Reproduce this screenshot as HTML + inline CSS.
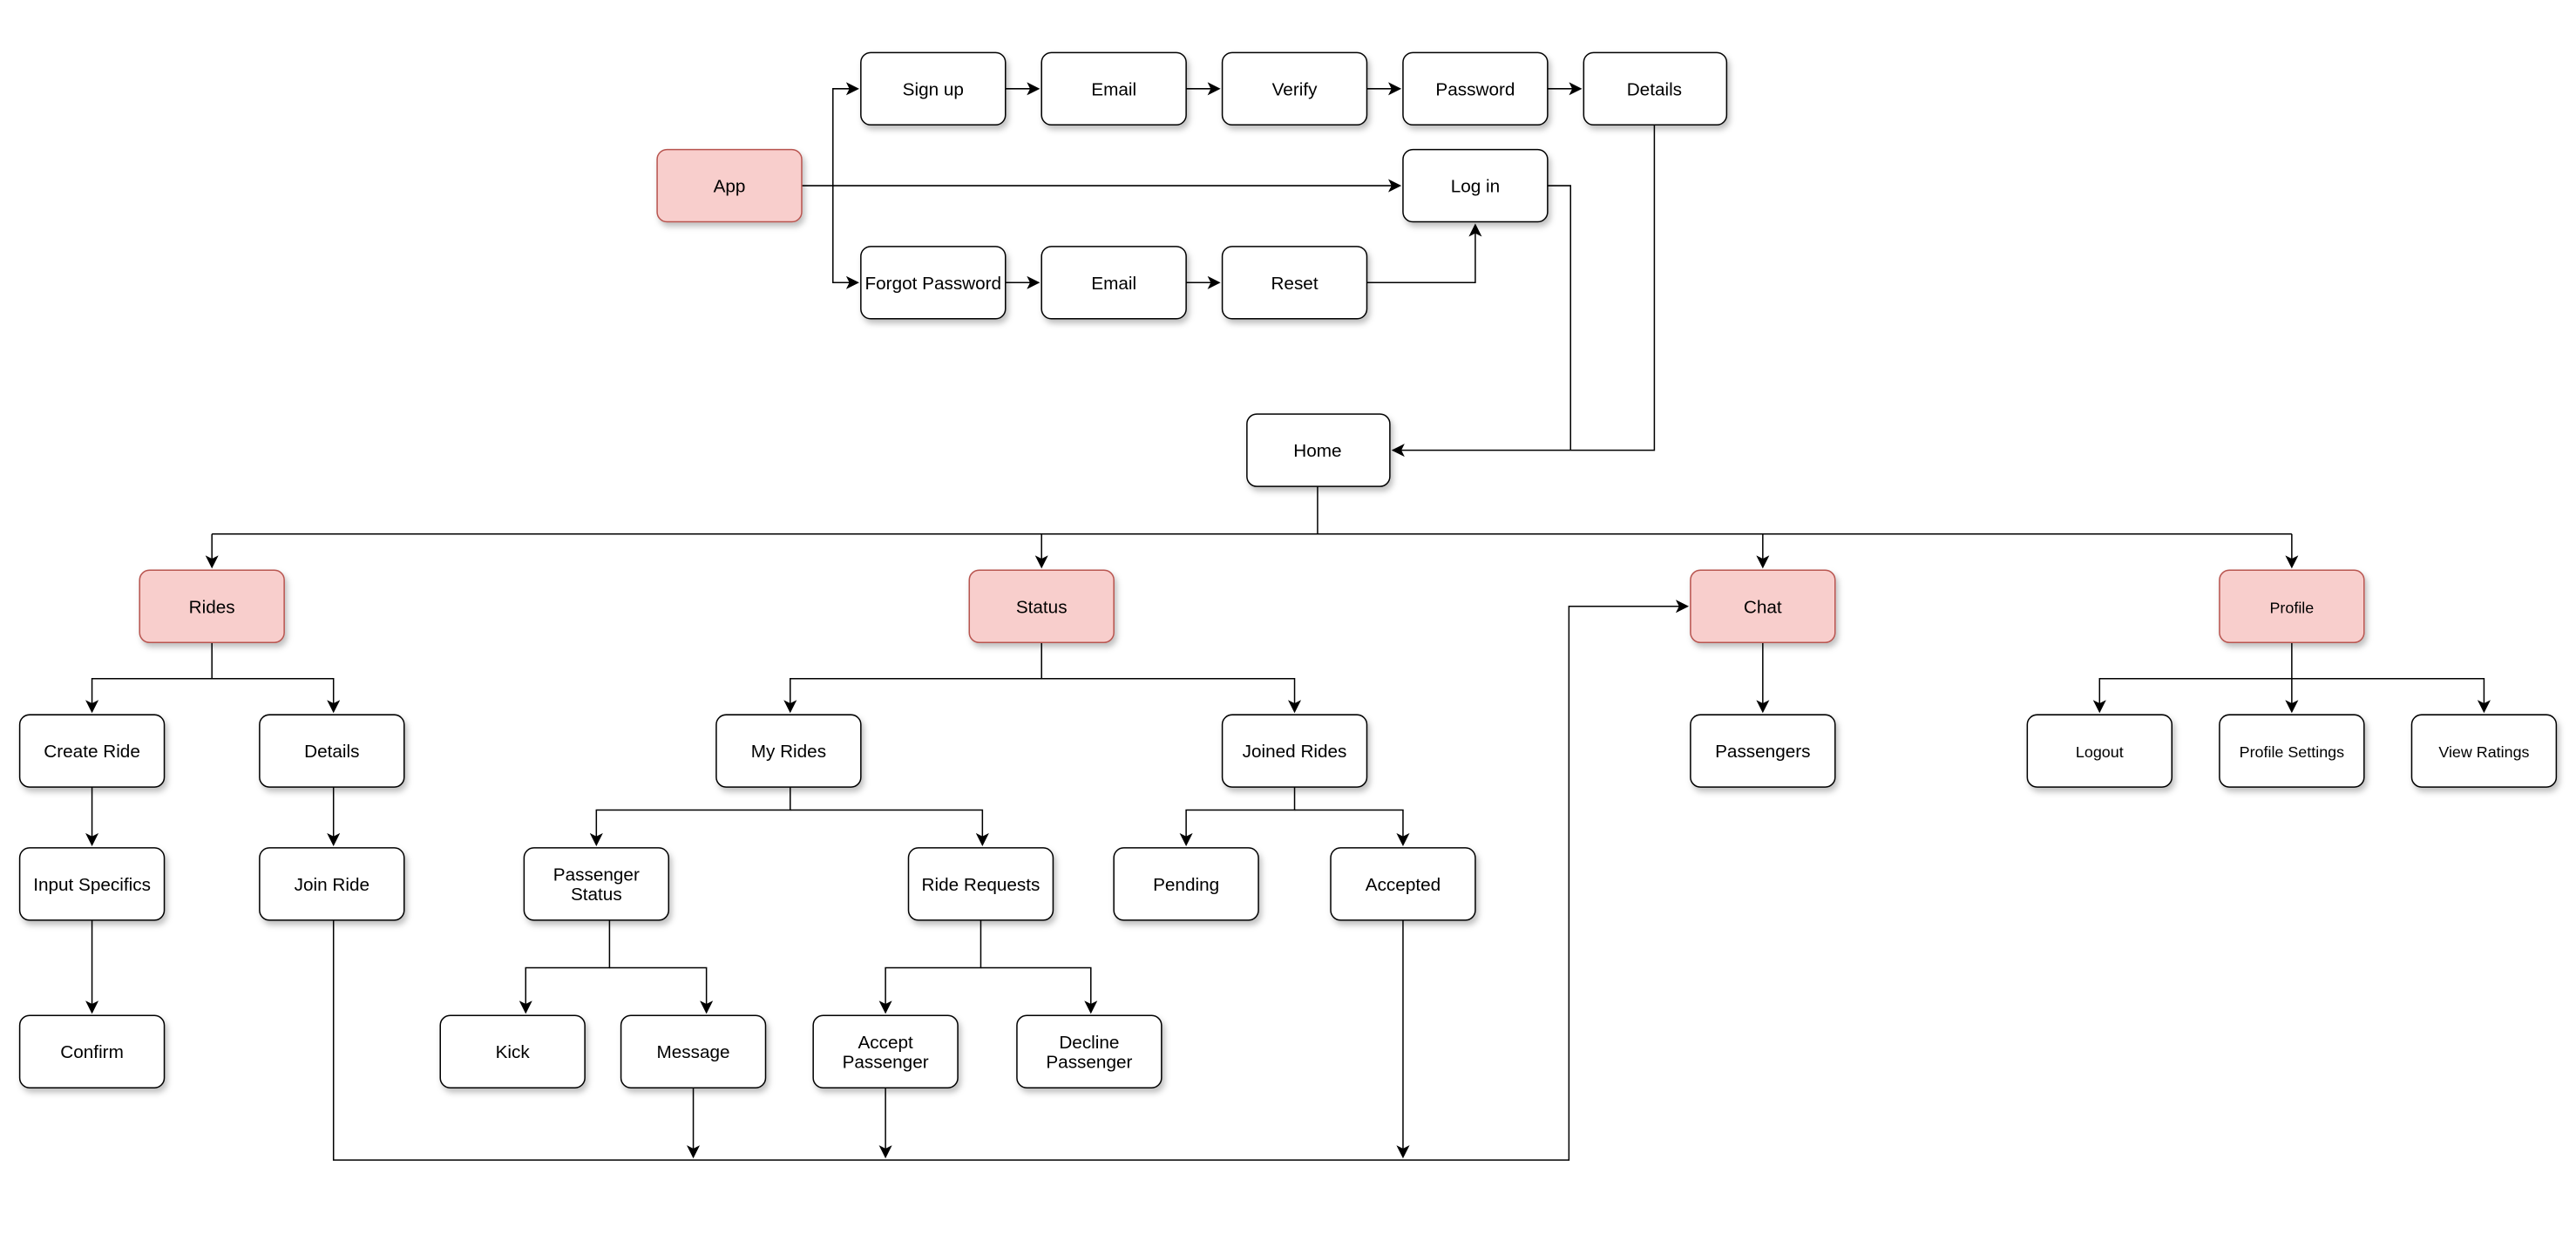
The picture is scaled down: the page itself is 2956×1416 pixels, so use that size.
<!DOCTYPE html>
<html><head><meta charset="utf-8"><style>html,body{margin:0;padding:0;background:#fff}svg{display:block}</style></head>
<body>
<svg width="2956" height="1416" viewBox="0 0 1568 751" preserveAspectRatio="none" xmlns="http://www.w3.org/2000/svg" font-family="Liberation Sans, Arial, sans-serif">
<defs>
<marker id="a" markerWidth="8" markerHeight="8" refX="7" refY="4" orient="auto" markerUnits="userSpaceOnUse"><path d="M0,0 L8,4 L0,8 L2,4 z" fill="#000"/></marker>
<filter id="s" x="-20%" y="-20%" width="150%" height="160%"><feDropShadow dx="1.5" dy="2.5" stdDeviation="1.8" flood-color="#000" flood-opacity="0.25"/></filter>
</defs>
<g fill="none" stroke="#000" stroke-width="0.8">
<!-- top -->
<path d="M488,113 H852" marker-end="url(#a)"/>
<path d="M507,113 V54 H522" marker-end="url(#a)"/>
<path d="M507,113 V172 H522" marker-end="url(#a)"/>
<path d="M612,54 H632" marker-end="url(#a)"/>
<path d="M722,54 H742" marker-end="url(#a)"/>
<path d="M832,54 H852" marker-end="url(#a)"/>
<path d="M942,54 H962" marker-end="url(#a)"/>
<path d="M612,172 H632" marker-end="url(#a)"/>
<path d="M722,172 H742" marker-end="url(#a)"/>
<path d="M832,172 H898 V137" marker-end="url(#a)"/>
<path d="M942,113 H956 V274"/>
<path d="M1007,76 V274 H848" marker-end="url(#a)"/>
<!-- home bus -->
<path d="M802,296 V325"/>
<path d="M129,325 H1395"/>
<path d="M129,325 V345" marker-end="url(#a)"/>
<path d="M634,325 V345" marker-end="url(#a)"/>
<path d="M1073,325 V345" marker-end="url(#a)"/>
<path d="M1395,325 V345" marker-end="url(#a)"/>
<!-- rides -->
<path d="M129,391 V413 H56 V433" marker-end="url(#a)"/>
<path d="M129,413 H203 V433" marker-end="url(#a)"/>
<path d="M56,479 V514" marker-end="url(#a)"/>
<path d="M56,560 V616" marker-end="url(#a)"/>
<path d="M203,479 V514" marker-end="url(#a)"/>
<!-- status -->
<path d="M634,391 V413 H481 V433" marker-end="url(#a)"/>
<path d="M634,413 H788 V433" marker-end="url(#a)"/>
<path d="M481,479 V493 H363 V514" marker-end="url(#a)"/>
<path d="M481,493 H598 V514" marker-end="url(#a)"/>
<path d="M788,479 V493 H722 V514" marker-end="url(#a)"/>
<path d="M788,493 H854 V514" marker-end="url(#a)"/>
<path d="M371,560 V589 H320 V616" marker-end="url(#a)"/>
<path d="M371,589 H430 V616" marker-end="url(#a)"/>
<path d="M597,560 V589 H539 V616" marker-end="url(#a)"/>
<path d="M597,589 H664 V616" marker-end="url(#a)"/>
<!-- bottom -->
<path d="M203,560 V706 H955 V369 H1027" marker-end="url(#a)"/>
<path d="M422,662 V704" marker-end="url(#a)"/>
<path d="M539,662 V704" marker-end="url(#a)"/>
<path d="M854,560 V704" marker-end="url(#a)"/>
<!-- chat/profile -->
<path d="M1073,391 V433" marker-end="url(#a)"/>
<path d="M1395,391 V413 H1278 V433" marker-end="url(#a)"/>
<path d="M1395,413 V433" marker-end="url(#a)"/>
<path d="M1395,413 H1512 V433" marker-end="url(#a)"/>
</g>
<g stroke-width="0.8" filter="url(#s)">
<g fill="#fff" stroke="#000">
<rect x="524" y="32" width="88" height="44" rx="6"/>
<rect x="634" y="32" width="88" height="44" rx="6"/>
<rect x="744" y="32" width="88" height="44" rx="6"/>
<rect x="854" y="32" width="88" height="44" rx="6"/>
<rect x="964" y="32" width="87" height="44" rx="6"/>
<rect x="854" y="91" width="88" height="44" rx="6"/>
<rect x="524" y="150" width="88" height="44" rx="6"/>
<rect x="634" y="150" width="88" height="44" rx="6"/>
<rect x="744" y="150" width="88" height="44" rx="6"/>
<rect x="759" y="252" width="87" height="44" rx="6"/>
<rect x="12" y="435" width="88" height="44" rx="6"/>
<rect x="158" y="435" width="88" height="44" rx="6"/>
<rect x="436" y="435" width="88" height="44" rx="6"/>
<rect x="744" y="435" width="88" height="44" rx="6"/>
<rect x="1029" y="435" width="88" height="44" rx="6"/>
<rect x="1234" y="435" width="88" height="44" rx="6"/>
<rect x="1351" y="435" width="88" height="44" rx="6"/>
<rect x="1468" y="435" width="88" height="44" rx="6"/>
<rect x="12" y="516" width="88" height="44" rx="6"/>
<rect x="158" y="516" width="88" height="44" rx="6"/>
<rect x="319" y="516" width="88" height="44" rx="6"/>
<rect x="553" y="516" width="88" height="44" rx="6"/>
<rect x="678" y="516" width="88" height="44" rx="6"/>
<rect x="810" y="516" width="88" height="44" rx="6"/>
<rect x="12" y="618" width="88" height="44" rx="6"/>
<rect x="268" y="618" width="88" height="44" rx="6"/>
<rect x="378" y="618" width="88" height="44" rx="6"/>
<rect x="495" y="618" width="88" height="44" rx="6"/>
<rect x="619" y="618" width="88" height="44" rx="6"/>
</g>
<g fill="#f8cecc" stroke="#b85450">
<rect x="400" y="91" width="88" height="44" rx="6"/>
<rect x="85" y="347" width="88" height="44" rx="6"/>
<rect x="590" y="347" width="88" height="44" rx="6"/>
<rect x="1029" y="347" width="88" height="44" rx="6"/>
<rect x="1351" y="347" width="88" height="44" rx="6"/>
</g>
</g>
<g font-size="11" text-anchor="middle" fill="#000">
<text x="568" y="58">Sign up</text>
<text x="678" y="58">Email</text>
<text x="788" y="58">Verify</text>
<text x="898" y="58">Password</text>
<text x="1007" y="58">Details</text>
<text x="444" y="117">App</text>
<text x="898" y="117">Log in</text>
<text x="568" y="176">Forgot Password</text>
<text x="678" y="176">Email</text>
<text x="788" y="176">Reset</text>
<text x="802" y="278">Home</text>
<text x="129" y="373">Rides</text>
<text x="634" y="373">Status</text>
<text x="1073" y="373">Chat</text>
<text x="1395" y="373" font-size="9.5">Profile</text>
<text x="56" y="461">Create Ride</text>
<text x="202" y="461">Details</text>
<text x="480" y="461">My Rides</text>
<text x="788" y="461">Joined Rides</text>
<text x="1073" y="461">Passengers</text>
<text x="1278" y="461" font-size="9.5">Logout</text>
<text x="1395" y="461" font-size="9.5">Profile Settings</text>
<text x="1512" y="461" font-size="9.5">View Ratings</text>
<text x="56" y="542">Input Specifics</text>
<text x="202" y="542">Join Ride</text>
<text x="363" y="536">Passenger</text>
<text x="363" y="548">Status</text>
<text x="597" y="542">Ride Requests</text>
<text x="722" y="542">Pending</text>
<text x="854" y="542">Accepted</text>
<text x="56" y="644">Confirm</text>
<text x="312" y="644">Kick</text>
<text x="422" y="644">Message</text>
<text x="539" y="638">Accept</text>
<text x="539" y="650">Passenger</text>
<text x="663" y="638">Decline</text>
<text x="663" y="650">Passenger</text>
</g>
</svg>
</body></html>
